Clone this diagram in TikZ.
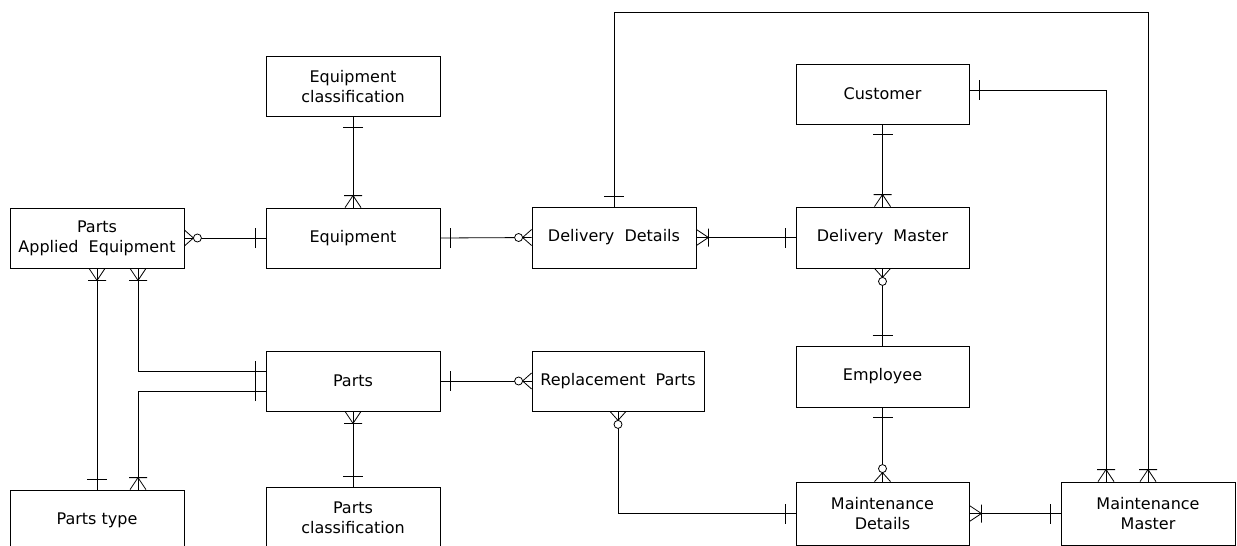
\documentclass[tikz,border=0pt]{standalone}
\usepackage{fontspec}
\setmainfont{DejaVu Sans}
\usetikzlibrary{calc}

% Relationship end markers: #1 = point on the entity border,
% #2 = direction (degrees) pointing away from the entity.
\newcommand{\relOne}[2]{\draw[shift={(#1)},rotate=#2] (10,-10) -- (10,10);}
\newcommand{\relMany}[2]{\draw[shift={(#1)},rotate=#2] (0,-8) -- (12,0) -- (0,8) (12,-9) -- (12,9);}
\newcommand{\relZeroMany}[2]{%
  \draw[shift={(#1)},rotate=#2] (0,-8) -- (9,0) -- (0,8);
  \draw[shift={(#1)},rotate=#2,fill=white] (13,0) circle[radius=4pt];}

\begin{document}
\begin{tikzpicture}[x=1pt,y=-1pt,
  line width=0.8pt,
  entity/.style={draw, minimum width=174pt, minimum height=60pt, inner sep=0pt,
    align=center, font=\fontsize{16}{20}\selectfont},
]
\path[use as bounding box] (0,0) rectangle (1237,546);
\clip (0,0) rectangle (1237,546);

% entities
\node[entity] (eqc) at (353,86.5) {Equipment\\classification};
\node[entity] (pae) at (97,238) {Parts\\Applied~ Equipment};
\node[entity] (eq)  at (353,238) {Equipment};
\node[entity, minimum width=164pt, minimum height=61pt] (dd) at (614,237.5) {Delivery~ Details};
\node[entity, minimum width=173pt, minimum height=61pt] (dm) at (882.5,237.5) {Delivery~ Master};
\node[entity, minimum width=173pt] (cu) at (882.5,94) {Customer};
\node[entity] (pa)  at (353,381) {Parts};
\node[entity, minimum width=172pt] (rp) at (618,381) {Replacement~ Parts};
\node[entity, minimum width=173pt, minimum height=61pt] (em) at (882.5,376.5) {Employee};
\node[entity] (pt)  at (97,520) {Parts type};
\node[entity, minimum height=62pt] (pc) at (353,518) {Parts\\classification};
\node[entity, minimum width=173pt, minimum height=63pt] (md) at (882.5,513.5) {Maintenance\\Details};
\node[entity, minimum height=63pt] (mm) at (1148,513.5) {Maintenance\\Master};

% auxiliary points
\coordinate (ring) at (1148,12);
\coordinate (cuR)  at ([yshift=4pt]cu.east);
\coordinate (mmL)  at ([xshift=-42pt]mm.north);
\coordinate (paeR) at ([xshift=41pt]pae.south);
\coordinate (paU)  at ([yshift=10pt]pa.west);
\coordinate (paD)  at ([yshift=-10pt]pa.west);
\coordinate (ptR)  at ([xshift=41pt]pt.north);

% relationships
\draw (eqc.south) -- (eq.north);
\draw (pae.east) -- (eq.west);
\draw (eq.east) -- (dd.west);
\draw (dd.east) -- (dm.west);
\draw (dd.north) |- (ring) -- (mm.north);
\draw (cuR) -| (mmL);
\draw (cu.south) -- (dm.north);
\draw (dm.south) -- (em.north);
\draw (em.south) -- (md.north);
\draw (rp.south) |- (md.west);
\draw (md.east) -- (mm.west);
\draw (pa.east) -- (rp.west);
\draw (pa.south) -- (pc.north);
\draw (pae.south) -- (pt.north);
\draw (paeR) |- (paU);
\draw (paD) -| (ptR);

% cardinality markers
\relOne{eqc.south}{270} \relMany{eq.north}{90}
\relZeroMany{pae.east}{0} \relOne{eq.west}{180}
\relOne{eq.east}{0} \relZeroMany{dd.west}{180}
\relMany{dd.east}{0} \relOne{dm.west}{180}
\relOne{dd.north}{90} \relMany{mm.north}{90}
\relOne{cuR}{0} \relMany{mmL}{90}
\relOne{cu.south}{270} \relMany{dm.north}{90}
\relZeroMany{dm.south}{270} \relOne{em.north}{90}
\relOne{em.south}{270} \relZeroMany{md.north}{90}
\relZeroMany{rp.south}{270} \relOne{md.west}{180}
\relMany{md.east}{0} \relOne{mm.west}{180}
\relOne{pa.east}{0} \relZeroMany{rp.west}{180}
\relMany{pa.south}{270} \relOne{pc.north}{90}
\relMany{pae.south}{270} \relOne{pt.north}{90}
\relMany{paeR}{270} \relOne{paU}{180}
\relOne{paD}{180} \relMany{ptR}{90}
\end{tikzpicture}
\end{document}
